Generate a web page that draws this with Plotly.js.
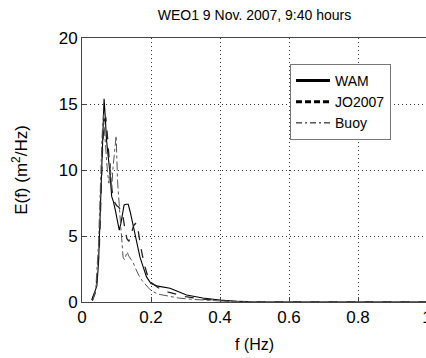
<!DOCTYPE html>
<html><head><meta charset="utf-8">
<script src="https://cdn.plot.ly/plotly-3.0.1.min.js"></script>
<style>html,body{margin:0;padding:0;overflow:hidden;background:#fff}</style>
</head><body><div id="chart"></div>
<script>
const wamF = [0.028,0.035,0.043,0.048,0.052,0.057,0.061,0.064,0.067,0.071,0.076,0.081,0.086,0.091,0.097,0.103,0.108,0.113,0.118,0.122,0.128,0.134,0.140,0.149,0.158,0.168,0.178,0.187,0.200,0.220,0.255,0.303,0.350,0.400,0.450,0.470,0.500,0.700,1.000];
const wamE = [0.15,0.6,1.2,3.0,6.2,10.5,14.0,15.4,14.2,12.3,11.0,9.8,8.0,7.6,6.9,6.0,5.45,6.0,6.9,7.35,7.4,7.4,6.8,5.7,4.5,3.4,2.6,1.9,1.4,1.2,1.04,0.53,0.3,0.15,0.06,0.03,0,0,0];
const joF = [0.030,0.040,0.050,0.055,0.060,0.065,0.069,0.073,0.078,0.083,0.088,0.094,0.100,0.106,0.112,0.118,0.124,0.130,0.136,0.142,0.150,0.157,0.163,0.170,0.180,0.190,0.200,0.220,0.250,0.300,0.350,0.400,0.450,0.480,0.500,0.700,1.000];
const joE = [0.1,0.8,4.0,8.0,12.0,13.8,14.0,12.8,11.0,9.3,8.3,7.6,7.3,7.2,7.0,6.6,5.6,4.8,4.6,5.2,5.8,6.0,5.4,4.2,2.9,2.0,1.5,1.1,0.75,0.4,0.22,0.1,0.05,0.02,0,0,0];
const buoyF = [0.032,0.040,0.048,0.053,0.058,0.062,0.066,0.070,0.074,0.078,0.082,0.086,0.090,0.094,0.099,0.103,0.107,0.111,0.115,0.119,0.123,0.127,0.131,0.135,0.140,0.148,0.156,0.165,0.175,0.185,0.195,0.205,0.220,0.250,0.280,0.320,0.360,0.400,0.450,0.480,0.500,0.700,1.000];
const buoyE = [0.2,1.0,4.5,9.0,12.5,14.2,13.0,11.2,9.8,9.0,10.5,8.6,10.2,11.5,12.6,9.2,7.4,6.2,4.8,3.4,3.2,3.6,3.8,3.5,3.3,3.0,2.5,2.0,1.6,1.3,1.0,0.8,0.6,0.45,0.3,0.2,0.12,0.08,0.04,0.02,0,0,0];
const seriesNames = ['WAM','JO2007','Buoy'];
const xTicks = [0,0.2,0.4,0.6,0.8,1];
const xTickText = ['0','0.2','0.4','0.6','0.8','1'];
const yTicks = [0,5,10,15,20];

const dataLines = [
  {color: '#000', width: 1.1},
  {color: '#222', width: 1.3, dash: 'dash'},
  {color: '#555', width: 1, dash: 'dashdot'}
];
const legendLines = [
  {color: '#000', width: 3},
  {color: '#000', width: 3, dash: '6px,3px'},
  {color: '#000', width: 1, dash: '6px,3px,2px,3px'}
];
const xs = [wamF, joF, buoyF], ys = [wamE, joE, buoyE];
const traces = [];
xs.forEach((x, i) => traces.push({x: x, y: ys[i], name: seriesNames[i], mode: 'lines', line: dataLines[i], showlegend: false}));
seriesNames.forEach((n, i) => traces.push({x: [null], y: [null], name: n, mode: 'lines', line: legendLines[i], showlegend: true}));

const font = {family: 'Liberation Sans, Arial, sans-serif', color: '#000'};
const layout = {
  width: 430, height: 358,
  margin: {l: 82, r: 3, t: 38, b: 56},
  paper_bgcolor: '#fff', plot_bgcolor: '#fff',
  font: Object.assign({size: 16}, font),
  showlegend: true,
  title: {text: 'WEO1 9 Nov. 2007, 9:40 hours', font: Object.assign({size: 14}, font), x: 0.5, xref: 'paper', xanchor: 'center', y: 1 - 15/358, yanchor: 'middle'},
  xaxis: {
    range: [0, 1], tickvals: xTicks, ticktext: xTickText,
    showgrid: true, gridcolor: '#333', griddash: '1px,3px', gridwidth: 1,
    zeroline: false, showline: true, linecolor: '#444', linewidth: 1, mirror: true,
    ticks: 'inside', ticklen: 5, tickcolor: '#444', ticklabeloverflow: 'allow',
    tickfont: Object.assign({size: 17}, font),
    title: {text: 'f (Hz)', font: Object.assign({size: 16}, font), standoff: 12}
  },
  yaxis: {
    range: [0, 20], tickvals: yTicks,
    showgrid: true, gridcolor: '#333', griddash: '1px,3px', gridwidth: 1,
    zeroline: false, showline: true, linecolor: '#444', linewidth: 1, mirror: true,
    ticks: 'inside', ticklen: 5, tickcolor: '#444',
    tickfont: Object.assign({size: 17}, font),
    title: {text: 'E(f) (m<sup>2</sup>/Hz)', font: Object.assign({size: 17}, font), standoff: 26}
  },
  legend: {
    x: 0.603, y: 0.902, xanchor: 'left', yanchor: 'top',
    bgcolor: '#fff', bordercolor: '#777', borderwidth: 1,
    font: Object.assign({size: 14}, font), tracegroupgap: 0, itemwidth: 34
  }
};
Plotly.newPlot('chart', traces, layout, {displayModeBar: false, staticPlot: true});
</script></body></html>
